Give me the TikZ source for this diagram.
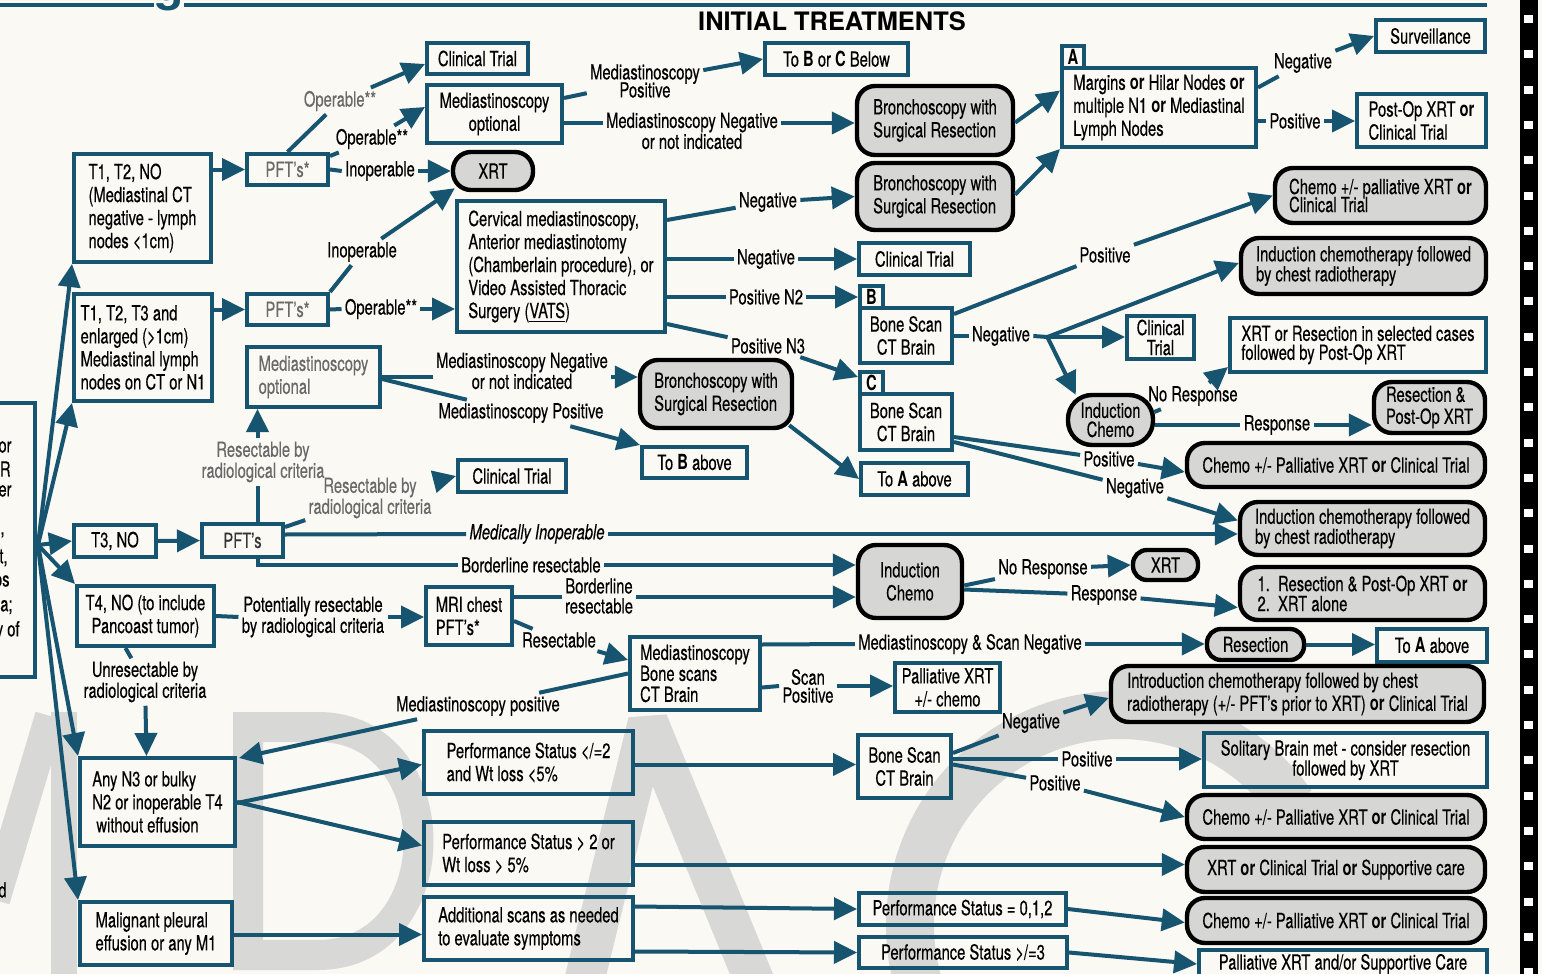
\documentclass[tikz,border=0pt]{standalone}
\usepackage{fontspec}
\setmainfont{TeX Gyre Heros}[FakeStretch=0.71, UprightFeatures={FakeBold=0.3}, ItalicFeatures={FakeBold=0.3}]
\newfontfamily\titlefont{TeX Gyre Heros}
\usetikzlibrary{arrows.meta,calc}
\definecolor{lineblue}{RGB}{22,84,112}
\definecolor{bg}{RGB}{250,249,243}
\definecolor{gfill}{RGB}{214,214,212}
\definecolor{tgray}{RGB}{105,105,105}
\definecolor{wm}{RGB}{216,216,214}
\newcommand{\bx}[7][]{\node[#1, minimum width={(#5-#3)*0.5pt}, minimum height={(#6-#4)*0.5pt}] (#2) at ({(#3+#5)/2},{(#4+#6)/2}) {#7};}
\begin{document}
\begin{tikzpicture}[x=0.5pt,y=-0.5pt,
  font=\fontsize{10.4pt}{11.5pt}\selectfont,
  rbox/.style={draw=lineblue,line width=2pt,align=center,inner sep=2pt},
  lbox/.style={rbox,align=left},
  gbox/.style={draw=black,line width=2.2pt,fill=gfill,rounded corners=9pt,align=center,inner sep=2pt},
  glbox/.style={gbox,align=left},
  lab/.style={inner sep=1.5pt,align=center,font=\fontsize{10.4pt}{10.5pt}\selectfont},
  ln/.style={draw=lineblue,line width=2pt},
  arr/.style={ln,-{Triangle[length=11.5pt,width=11pt]}},
]
\useasboundingbox (0,0) rectangle (1542,974);
\fill[bg] (0,0) rectangle (1542,974);
% watermark letters
\begin{scope}[draw=wm]
\draw[line width=13pt] (64,712) -- (64,990);
\draw[line width=15pt] (50,716) -- (-5,900);
\draw[line width=15pt] (248,727) -- (318,727) .. controls (452,727) and (452,955) .. (318,955) -- (248,955) -- cycle;
\draw[line width=20pt,line join=bevel] (582,990) -- (648,722) -- (758,990);
\draw[line width=24pt] ($(1120,925)+(-35:210)$) arc[start angle=-35,end angle=-325,radius=210];
\end{scope}
% top rule, title, film strip
\draw[ln] (0,5) -- (154,5);
\draw[ln] (184,5) -- (1487,5);
\node[font={\titlefont\fontsize{24pt}{24pt}\selectfont\bfseries},text=lineblue,anchor=base,inner sep=0pt] (gfrag) at (169,1) {g};
\node[font={\titlefont\fontsize{12.7pt}{14pt}\selectfont\bfseries}] (title) at (832,21) {INITIAL TREATMENTS};
\fill[black] (1520,0) rectangle (1538,974);
\foreach \i in {0,...,27} \fill[white] (1524,{15+35.3*\i}) rectangle (1533,{23+35.3*\i});
% left cut-off box
\bx[rbox]{LB}{-120}{403}{35}{677}{}
\node[anchor=east,inner sep=0pt] (f1) at (12,447) {or};
\node[anchor=east,inner sep=0pt] (f2) at (11,469) {R};
\node[anchor=east,inner sep=0pt] (f3) at (12,491) {er};
\node[anchor=east,inner sep=0pt] (f4) at (5,535) {,};
\node[anchor=east,inner sep=0pt] (f5) at (8,558) {t,};
\node[anchor=east,inner sep=0pt] (f6) at (10,581) {os};
\node[anchor=east,inner sep=0pt] (f7) at (13,605) {Ca;};
\node[anchor=east,inner sep=0pt] (f8) at (20,631) {y of};
\node[anchor=east,inner sep=0pt] (f9) at (7,890) {d};
% column 1
\bx[lbox]{N1}{74}{154}{211}{262}{T1, T2, NO\\(Mediastinal CT\\negative - lymph\\nodes <1cm)}
\bx[lbox]{N2}{74}{294}{212}{401}{T1, T2, T3 and\\enlarged (>1cm)\\Mediastinal lymph\\nodes on CT or N1}
\bx[rbox]{N3}{74}{525}{156}{557}{T3, NO}
\bx[rbox]{N4}{77}{586}{214}{646}{T4, NO (to include\\Pancoast tumor)}
\bx[lbox]{N5}{80}{758}{235}{846}{Any N3 or bulky\\N2 or inoperable T4\\\ without effusion}
\bx[lbox]{N6}{80}{902}{232}{965}{Malignant pleural\\effusion or any M1}
% PFT boxes
\bx[rbox,text=tgray]{P1}{247}{154}{328}{185}{PFT's*}
\bx[rbox,text=tgray]{P2}{247}{294}{328}{325}{PFT's*}
\bx[rbox,text=black!80]{P3}{202}{524}{283}{557}{PFT's}
% column 2
\bx[rbox]{CT1}{427}{43}{528}{74}{Clinical Trial}
\bx[rbox]{MO1}{427}{85}{562}{143}{Mediastinoscopy\\optional}
\bx[gbox]{XRT1}{453}{152}{533}{190}{XRT}
\bx[lbox]{CM}{457}{201}{665}{332}{Cervical mediastinoscopy,\\Anterior mediastinotomy\\(Chamberlain procedure), or\\Video Assisted Thoracic\\Surgery (\underline{VATS})}
\bx[lbox,text=tgray]{MO2}{247}{347}{380}{407}{Mediastinoscopy\\optional}
\bx[rbox]{CT3}{458}{460}{566}{492}{Clinical Trial}
\bx[lbox]{MRI}{426}{587}{512}{645}{MRI chest\\PFT's*}
\bx[lbox]{MBC}{630}{637}{760}{710}{Mediastinoscopy\\[-1pt]Bone scans\\[-1pt]CT Brain}
\bx[lbox]{PS1}{424}{731}{633}{794}{Performance Status </=2\\and Wt loss <5\%}
\bx[lbox]{PS2}{424}{822}{633}{885}{Performance Status > 2 or\\Wt loss > 5\%}
\bx[lbox]{AS}{424}{897}{633}{960}{Additional scans as needed\\to evaluate symptoms}
% column 3
\bx[rbox]{ToBC}{765}{43}{908}{75}{To \textbf{B} or \textbf{C} Below}
\bx[glbox]{BR1}{857}{86}{1013}{155}{Bronchoscopy with\\Surgical Resection}
\bx[glbox]{BR2}{857}{163}{1013}{230}{Bronchoscopy with\\Surgical Resection}
\bx[rbox]{CT2}{859}{243}{970}{275}{Clinical Trial}
\bx[rbox,inner sep=0pt]{Blab}{860}{286}{883}{308}{\textbf{B}}
\bx[rbox]{BoneB}{860}{308}{952}{363}{Bone Scan\\CT Brain}
\bx[rbox,inner sep=0pt]{Clab}{860}{372}{883}{394}{\textbf{C}}
\bx[rbox]{BoneC}{860}{394}{952}{450}{Bone Scan\\CT Brain}
\bx[rbox]{ToA1}{861}{463}{968}{495}{To \textbf{A} above}
\bx[glbox]{BR3}{640}{360}{792}{428}{Bronchoscopy with\\Surgical Resection}
\bx[rbox]{ToB}{642}{447}{747}{478}{To \textbf{B} above}
\bx[gbox]{IC3}{858}{545}{962}{618}{Induction\\Chemo}
\bx[rbox]{PXC}{895}{663}{1000}{712}{Palliative XRT\\+/- chemo}
\bx[rbox]{BoneD}{858}{735}{951}{798}{Bone Scan\\CT Brain}
\bx[rbox]{PS3}{859}{893}{1066}{925}{Performance Status = 0,1,2}
\bx[rbox]{PS4}{859}{937}{1067}{968}{Performance Status >/=3}
% column 4
\bx[rbox,inner sep=0pt]{Alab}{1062}{46}{1084}{68}{\textbf{A}}
\bx[lbox]{Abox}{1062}{68}{1256}{147}{Margins \textbf{or} Hilar Nodes \textbf{or}\\multiple N1 \textbf{or} Mediastinal\\Lymph Nodes}
\bx[rbox]{Surv}{1376}{20}{1485}{52}{Surveillance}
\bx[lbox]{PostOp}{1357}{94}{1486}{147}{Post-Op XRT \textbf{or}\\Clinical Trial}
\bx[glbox]{Chemo1}{1275}{168}{1486}{223}{Chemo +/- palliative XRT \textbf{or}\\[-2.5pt]Clinical Trial}
\bx[glbox]{IC1}{1241}{238}{1486}{294}{Induction chemotherapy followed\\[-1.5pt]by chest radiotherapy}
\bx[rbox]{CT4}{1127}{318}{1194}{357}{Clinical\\[-1.5pt]Trial}
\bx[lbox]{XRTR}{1230}{318}{1486}{372}{XRT or Resection in selected cases\\[-2pt]followed by Post-Op XRT}
\bx[gbox,rounded corners=12pt]{IC4}{1068}{395}{1153}{445}{Induction\\[-2pt]Chemo}
\bx[glbox]{ResPO}{1374}{382}{1485}{433}{Resection \&\\[-0.5pt]Post-Op XRT}
\bx[gbox]{Chemo2}{1187}{443}{1485}{487}{Chemo +/- Palliative XRT \textbf{or} Clinical Trial}
\bx[glbox]{IC2}{1240}{502}{1485}{555}{Induction chemotherapy followed\\[-1.5pt]by chest radiotherapy}
\bx[gbox,rounded corners=7pt]{XRT2}{1133}{550}{1198}{580}{XRT}
\bx[glbox]{Res12}{1240}{567}{1485}{620}{1.\ \ Resection \& Post-Op XRT \textbf{or}\\[-1.5pt]2.\ \ XRT alone}
\bx[gbox,rounded corners=7pt]{Resec}{1207}{629}{1304}{660}{Resection}
\bx[rbox]{ToA2}{1377}{629}{1487}{662}{To \textbf{A} above}
\bx[glbox]{Intro}{1111}{666}{1484}{722}{Introduction chemotherapy followed by chest\\radiotherapy (+/- PFT's prior to XRT) \textbf{or} Clinical Trial}
\bx[rbox]{SBM}{1204}{733}{1487}{787}{Solitary Brain met - consider resection\\[-1.5pt]followed by XRT}
\bx[gbox]{Chemo3}{1187}{795}{1485}{839}{Chemo +/- Palliative XRT \textbf{or} Clinical Trial}
\bx[gbox]{XRTC}{1187}{847}{1485}{892}{XRT \textbf{or} Clinical Trial \textbf{or} Supportive care}
\bx[gbox]{Chemo4}{1187}{898}{1485}{943}{Chemo +/- Palliative XRT \textbf{or} Clinical Trial}
\bx[rbox]{PAL}{1199}{950}{1487}{978}{Palliative XRT and/or Supportive Care}
% labels
\node[lab,text=tgray] (L1) at (340,101) {Operable**};
\node[lab] (L2) at (372,139) {Operable**};
\node[lab] (L3) at (380,171) {Inoperable};
\node[lab] (L4) at (362,252) {Inoperable};
\node[lab] (L5) at (381,309) {Operable**};
\node[lab,text=tgray] (L6) at (263,462) {Resectable by\\radiological criteria};
\node[lab,text=tgray] (L7) at (370,498) {Resectable by\\radiological criteria};
\node[lab] (L8) at (537,534) {\textit{Medically Inoperable}};
\node[lab] (L9) at (531,565) {Borderline resectable};
\node[lab] (L10) at (645,81) {Mediastinoscopy\\[-1.5pt]Positive};
\node[lab] (L11) at (692,131) {Mediastinoscopy Negative\\or not indicated};
\node[lab] (L12) at (768,202) {Negative};
\node[lab] (L13) at (766,259) {Negative};
\node[lab] (L14) at (766,297) {Positive N2};
\node[lab] (L15) at (768,346) {Positive N3};
\node[lab] (L16) at (1303,63) {Negative};
\node[lab] (L17) at (1295,121) {Positive};
\node[lab] (L18) at (1105,255) {Positive};
\node[lab] (L19) at (1001,336) {Negative};
\node[lab] (L20) at (1193,396) {No Response};
\node[lab] (L21) at (1277,425) {Response};
\node[lab] (L22) at (1109,459) {Positive};
\node[lab] (L23) at (1135,488) {Negative};
\node[lab] (L24) at (522,371) {Mediastinoscopy Negative\\or not indicated};
\node[lab] (L25) at (521,413) {Mediastinoscopy Positive};
\node[lab] (L26) at (313,617) {Potentially resectable\\by radiological criteria};
\node[lab] (L27) at (145,682) {Unresectable by\\radiological criteria};
\node[lab] (L28) at (599,596) {Borderline\\[-0.5pt]resectable};
\node[lab] (L29) at (559,640) {Resectable};
\node[lab] (L30) at (1043,569) {No Response};
\node[lab] (L31) at (1104,595) {Response};
\node[lab] (L32) at (970,644) {Mediastinoscopy \& Scan Negative};
\node[lab] (L33) at (808,686) {Scan\\[-1.5pt]Positive};
\node[lab] (L34) at (478,706) {Mediastinoscopy positive};
\node[lab] (L35) at (1031,723) {Negative};
\node[lab] (L36) at (1087,759) {Positive};
\node[lab] (L37) at (1055,783) {Positive};
% fan from left box
\coordinate (fan) at ($(LB.east)+(1,5)$);
\draw[arr] (fan) -- (N1.south west);
\draw[arr] (fan) -- (N2.south west);
\draw[arr] (fan) -- (N3.west);
\draw[arr] (fan) -- (N4.north west);
\draw[arr] (fan) -- (N5.north west);
\draw[arr] (fan) -- (N6.north west);
% column 1 -> PFT
\draw[arr] (N1.east |- P1) -- (P1.west);
\draw[arr] (N2.east |- P2) -- (P2.west);
\draw[arr] (N3.east) -- (P3.west);
% P1
\draw[ln] (P1.north) -- (L1);
\draw[arr] (L1) -- ($(CT1.south west)+(0,-12)$);
\draw[ln] ($(P1.north east)+(0,4)$) -- (L2);
\draw[arr] (L2) -- ($(MO1.west)+(0,-7)$);
\draw[ln] (P1.east) -- (L3.west);
\draw[arr] (L3.east) -- (L3.east -| XRT1.west);
% P2
\draw[ln] (P2.north east) -- (L4);
\draw[arr] (L4) -- ($(XRT1.south west)+(4,-4)$);
\draw[ln] (P2.east) -- (L5.west);
\draw[arr] (L5.east) -- (L5.east -| CM.west);
% P3
\coordinate (p3t) at ($(P3.north)+(15,0)$);
\draw[ln] (p3t) -- (p3t |- L6.south);
\draw[arr] (p3t |- L6.north) -- (p3t |- MO2.south);
\draw[ln] ($(P3.north east)+(0,5)$) -- (L7);
\draw[arr] (L7) -- (CT3.west);
\draw[ln] ($(P3.east)+(0,-6)$) -- (L8.west);
\draw[arr] (L8.east) -- (L8.east -| IC2.west);
\coordinate (p3b) at ($(P3.south)+(15,0)$);
\draw[ln] (p3b) |- (L9.west);
\draw[arr] (L9.east) -- (L9.east -| IC3.west);
% MO1
\draw[ln] ($(MO1.east)+(0,-16)$) -- (L10);
\draw[arr] (L10) -- (ToBC.west);
\coordinate (m1) at ($(MO1.east)+(0,9)$);
\draw[ln] (m1) -- (m1 -| L11.west);
\draw[arr] (m1 -| L11.east) -- (m1 -| BR1.west);
% CM
\draw[ln] ($(CM.north east)+(0,21)$) -- (L12);
\draw[arr] (L12) -- (BR2.west);
\draw[ln] (CM.east |- L13) -- (L13.west);
\draw[arr] (L13.east) -- (L13.east -| CT2.west);
\draw[ln] (CM.east |- L14) -- (L14.west);
\draw[arr] (L14.east) -- (L14.east -| Blab.west);
\draw[ln] ($(CM.south east)+(0,-10)$) -- (L15);
\draw[arr] (L15) -- ($(Clab.west)+(0,-6)$);
% bronchoscopy -> A
\draw[arr] ($(BR1.east)+(0,2)$) -- ($(Abox.west)+(0,-17)$);
\draw[arr] ($(BR2.east)+(0,-2)$) -- (Abox.south west);
% A
\draw[ln] ($(Abox.east)+(0,-20)$) -- (L16);
\draw[arr] (L16) -- (Surv.west);
\draw[ln] (Abox.east |- L17) -- (L17.west);
\draw[arr] (L17.east) -- (L17.east -| PostOp.west);
% Bone scan B
\draw[ln] ($(BoneB.north east)+(0,8)$) -- (L18);
\draw[arr] (L18) -- (Chemo1.west);
\draw[ln] (BoneB.east |- L19) -- (L19.west);
\coordinate (jn) at ($(L19.east)+(14,1)$);
\draw[ln] (L19.east) -- (jn);
\draw[arr] (jn) -- (jn -| CT4.west);
\draw[arr] (jn) -- ($(IC4.north west)+(10,2)$);
\draw[arr] (jn) -- ($(IC1.west)+(0,-3)$);
% induction chemo (small)
\draw[ln] ($(IC4.east)+(-1,-8)$) -- (L20);
\draw[arr] (L20) -- ($(XRTR.south west)+(0,-7)$);
\draw[ln] (IC4.east |- L21) -- (L21.west);
\draw[arr] (L21.east) -- (L21.east -| ResPO.west);
% Bone scan C
\draw[ln] ($(BoneC.east)+(0,15)$) -- (L22);
\draw[arr] (L22) -- ($(Chemo2.west)+(0,7)$);
\draw[ln] ($(BoneC.east)+(0,20)$) -- (L23);
\draw[arr] (L23) -- ($(IC2.west)+(0,-8)$);
% middle bronchoscopy
\draw[arr] ($(BR3.south east)+(-5,-5)$) -- (ToA1.west);
\draw[ln] (MO2.east) -- (MO2.east -| L24.west);
\draw[arr] (MO2.east -| L24.east) -- (MO2.east -| BR3.west);
\draw[ln] ($(MO2.east)+(0,2)$) -- (L25);
\draw[arr] (L25) -- (ToB.north west);
% T4 branch
\draw[ln] (N4.east) -- (L26.west);
\draw[arr] (L26.east) -- (L26.east -| MRI.west);
\draw[ln] ($(N4.south)+(-20,0)$) -- (L27);
\draw[arr] (L27) -- ($(N5.north)+(-11,0)$);
\coordinate (mr1) at ($(MRI.east)+(0,-19)$);
\draw[ln] (mr1) -- (mr1 -| L28.west);
\draw[arr] (mr1 -| L28.east) -- (mr1 -| IC3.west);
\draw[ln] ($(MRI.east)+(0,5)$) -- (L29);
\draw[arr] (L29) -- ($(MBC.north west)+(0,25)$);
% induction chemo (middle)
\draw[ln] ($(IC3.east)+(0,4)$) -- (L30);
\draw[arr] (L30) -- (XRT2.west);
\draw[ln] ($(IC3.east)+(0,8)$) -- (L31);
\draw[arr] (L31) -- ($(Res12.west)+(0,14)$);
% MBC
\draw[ln] (MBC.east |- Resec) -- (L32.west);
\draw[arr] (L32.east) -- (L32.east -| Resec.west);
\draw[arr] (Resec.east) -- (Resec.east -| ToA2.west);
\draw[ln] (MBC.east |- PXC) -- (L33.west);
\draw[arr] (L33.east) -- (L33.east -| PXC.west);
\draw[ln] (MBC.west) -- (L34);
\draw[arr] (L34) -- ($(N5.north east)+(2,2)$);
% N5, N6
\draw[arr] ($(N5.east)+(0,1)$) -- ($(PS1.west)+(0,2)$);
\draw[arr] (N5.east) -- ($(PS2.west)+(0,-8)$);
\draw[arr] ($(N6.east)+(0,1)$) -- ($(N6.east -| AS.west)+(0,1)$);
% PS boxes
\draw[arr] ($(PS1.east)+(0,2)$) -- ($(PS1.east -| BoneD.west)+(0,2)$);
\draw[arr] ($(PS2.east)+(0,11)$) -- ($(PS2.east -| XRTC.west)+(0,11)$);
\draw[arr] ($(AS.east)+(0,-22)$) -- (PS3.west);
\draw[arr] ($(AS.east)+(0,23)$) -- (PS4.west);
\draw[arr] (PS3.east) -- ($(Chemo4.west)+(0,2)$);
\draw[arr] (PS4.east) -- (PAL.west);
% Bone scan D
\draw[ln] ($(BoneD.north east)+(0,20)$) -- (L35);
\draw[arr] (L35) -- ($(Intro.west)+(0,4)$);
\draw[ln] (BoneD.east |- L36) -- (L36.west);
\draw[arr] (L36.east) -- (L36.east -| SBM.west);
\draw[ln] ($(BoneD.east)+(0,-2)$) -- (L37);
\draw[arr] (L37) -- (Chemo3.west);
\end{tikzpicture}
\end{document}
